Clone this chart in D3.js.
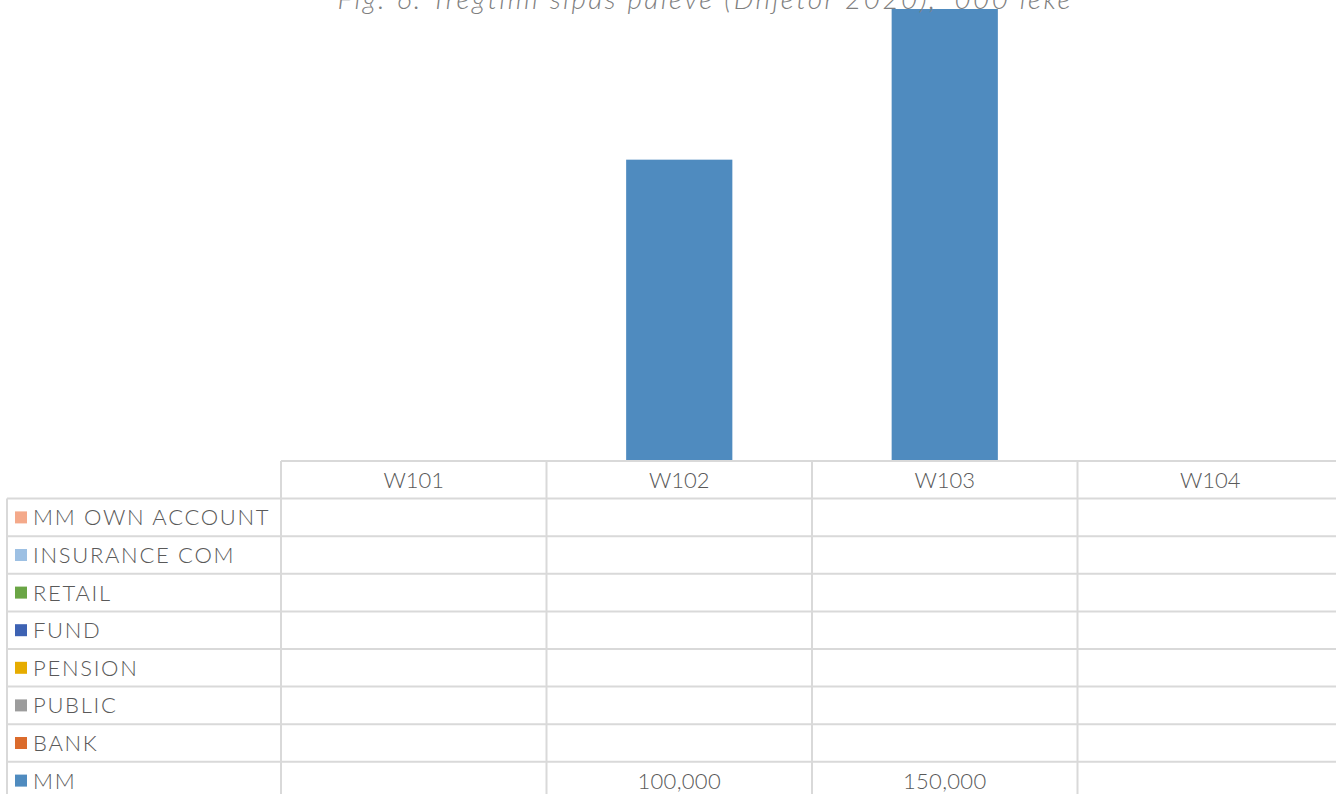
<!DOCTYPE html>
<html><head><meta charset="utf-8">
<script src="https://cdn.jsdelivr.net/npm/d3@7"></script>
<style>html,body{margin:0;padding:0;background:#fff;overflow:hidden}</style>
</head><body>
<svg id="c" width="1336" height="794"></svg>
<script>
const title = "Fig. 6. Tregtimi sipas palëve (Dhjetor 2020), '000 lekë";
const categories = ["W101", "W102", "W103", "W104"];
const seriesNames = ["MM OWN ACCOUNT", "INSURANCE COM", "RETAIL", "FUND", "PENSION", "PUBLIC", "BANK", "MM"];
const seriesColors = ["#f4a98a", "#9dc0e3", "#6aa545", "#3d62b3", "#e6ac00", "#9c9c9c", "#db6b2c", "#4f8bbf"];
const mmOwnAccount = [null, null, null, null];
const insuranceCom = [null, null, null, null];
const retail = [null, null, null, null];
const fund = [null, null, null, null];
const pension = [null, null, null, null];
const publicSeries = [null, null, null, null];
const bank = [null, null, null, null];
const mm = [null, 100000, 150000, null];
const seriesValues = [mmOwnAccount, insuranceCom, retail, fund, pension, publicSeries, bank, mm];

const svg = d3.select("#c");
const font = "Lato, 'Open Sans', sans-serif";
const textColor = "#595959";
const gridColor = "#d9d9d9";

const x = d3.scaleBand().domain(categories).range([281, 1343]).paddingInner(0).paddingOuter(0);
const y = d3.scaleLinear().domain([0, 150000]).range([461, 9]);

// stacked data (bottom series first = MM)
const table = categories.map((c, i) => {
  const o = {cat: c};
  seriesNames.forEach((s, j) => o[s] = seriesValues[j][i] || 0);
  return o;
});
const stackOrder = seriesNames.slice().reverse();
const stacked = d3.stack().keys(stackOrder)(table);
const barW = x.bandwidth() * 0.4;
svg.append("g").selectAll("g").data(stacked).join("g")
  .attr("fill", d => seriesColors[seriesNames.indexOf(d.key)])
  .selectAll("rect").data(d => d.filter(p => p[1] - p[0] > 0)).join("rect")
  .attr("x", d => x(d.data.cat) + (x.bandwidth() - barW) / 2)
  .attr("width", barW)
  .attr("y", d => y(d[1]))
  .attr("height", d => y(d[0]) - y(d[1]));

// title (cut off at top, as in the reference)
svg.append("text").attr("x", 1073).attr("y", 9).attr("text-anchor", "end")
  .attr("font-family", font).attr("font-style", "italic").attr("font-weight", 300)
  .attr("font-size", 28).attr("letter-spacing", 2.4)
  .attr("fill", "#7f7f7f").text(title);

// data table
const top0 = 461, rowH = 37.6, leftX = 7;
const nRows = seriesNames.length + 1;
const g = svg.append("g").attr("stroke", gridColor).attr("stroke-width", 2);
for (let i = 0; i <= nRows; i++) {
  const yy = top0 + i * rowH;
  g.append("line").attr("x1", i === 0 ? 281 : leftX).attr("x2", 1343).attr("y1", yy).attr("y2", yy);
}
g.append("line").attr("x1", leftX).attr("x2", leftX).attr("y1", top0 + rowH).attr("y2", top0 + nRows * rowH);
x.domain().forEach(c => {
  g.append("line").attr("x1", x(c)).attr("x2", x(c)).attr("y1", top0).attr("y2", top0 + nRows * rowH);
});
g.append("line").attr("x1", 1343).attr("x2", 1343).attr("y1", top0).attr("y2", top0 + nRows * rowH);

const t = svg.append("g").attr("font-family", font).attr("font-size", 22)
  .attr("font-weight", 300).attr("fill", textColor);
categories.forEach(c => {
  t.append("text").attr("x", x(c) + x.bandwidth() / 2).attr("y", top0 + rowH / 2)
    .attr("dy", "0.36em").attr("text-anchor", "middle").text(c);
});
const fmt = d3.format(",");
seriesNames.forEach((s, j) => {
  const cy = top0 + (j + 1) * rowH + rowH / 2;
  svg.append("rect").attr("x", 15).attr("y", cy - 6).attr("width", 12).attr("height", 12).attr("fill", seriesColors[j]);
  t.append("text").attr("x", 33).attr("y", cy).attr("dy", "0.36em").attr("letter-spacing", 1.7).text(s);
  categories.forEach((c, i) => {
    const v = seriesValues[j][i];
    if (v != null) {
      t.append("text").attr("x", x(c) + x.bandwidth() / 2).attr("y", cy).attr("dy", "0.36em")
        .attr("text-anchor", "middle").attr("letter-spacing", 0.3).text(fmt(v));
    }
  });
});
</script>
</body></html>
